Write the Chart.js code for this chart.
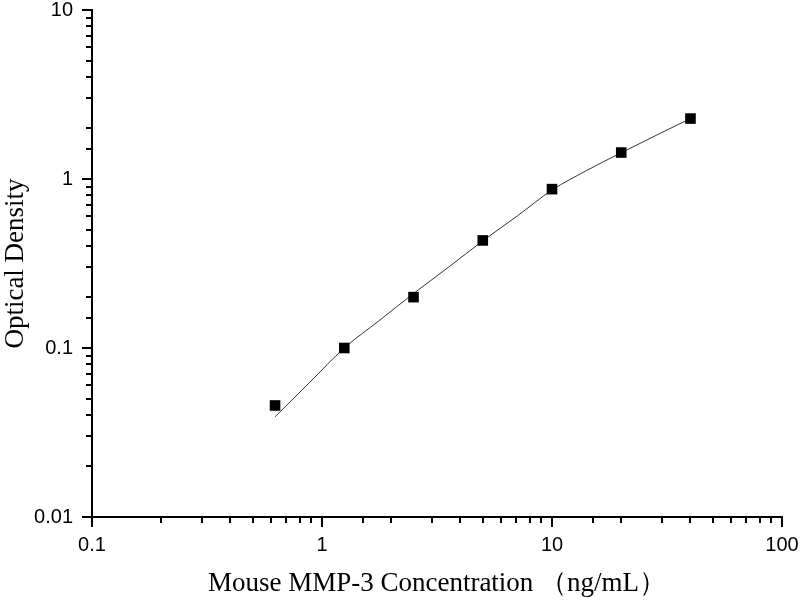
<!DOCTYPE html>
<html>
<head>
<meta charset="utf-8">
<script src="https://cdn.jsdelivr.net/npm/chart.js@4/dist/chart.umd.min.js"></script>
<style>
  html, body { margin: 0; padding: 0; background: #fff; }
  #wrap { width: 800px; height: 600px; }
</style>
</head>
<body>
<div id="wrap"><canvas id="curve" width="800" height="600"></canvas></div>
<script>
// standard points (ng/mL -> OD)
const concentrations = [0.625, 1.25, 2.5, 5, 10, 20, 40];
const odValues = [0.0457, 0.100, 0.200, 0.433, 0.871, 1.434, 2.279];

// fitted curve
const curveX = [0.625, 0.884, 1.25, 1.77, 2.5, 3.54, 5, 7.07, 10, 14.1, 20, 28.3, 40];
const curveY = [0.0392, 0.0626, 0.100, 0.145, 0.210, 0.300, 0.430, 0.605, 0.860, 1.12, 1.43, 1.81, 2.28];

// axis ranges + labels
const xRange = [0.1, 100];
const yRange = [0.01, 10];
const xTickLabels = ['0.1', '1', '10', '100'];
const yTickLabels = ['0.01', '0.1', '1', '10'];

const xTitle = 'Mouse MMP-3 Concentration （ng/mL）';
const yTitle = 'Optical Density';

const sansFont = "'Liberation Sans', Arial, sans-serif";
const serifFont = "'Liberation Serif', 'Times New Roman', serif";

function isDecade(v) {
    const l = Math.log10(v);
    return Math.abs(l - Math.round(l)) < 1e-6;
}

function labelFor(v, list) {
    if (!isDecade(v)) return '';
    const hit = list.find(s => Math.abs(parseFloat(s) - v) < v * 1e-6);
    return hit || '';
}

// draws the outward tick marks (long on decades, short in between)
const tickMarks = {
    id: 'tickMarks',
    afterDraw(chart) {
        const ctx = chart.ctx;
        const xs = chart.scales.x, ys = chart.scales.y;
        ctx.save();
        ctx.strokeStyle = '#000';
        ctx.lineWidth = 2;
        xs.ticks.forEach(t => {
            const px = Math.round(xs.getPixelForValue(t.value));
            const len = isDecade(t.value) ? 10 : 6;
            ctx.beginPath();
            ctx.moveTo(px, xs.top);
            ctx.lineTo(px, xs.top + len);
            ctx.stroke();
        });
        ys.ticks.forEach(t => {
            const py = Math.round(ys.getPixelForValue(t.value));
            const len = isDecade(t.value) ? 10 : 6;
            ctx.beginPath();
            ctx.moveTo(ys.right, py);
            ctx.lineTo(ys.right - len, py);
            ctx.stroke();
        });
        ctx.restore();
    }
};

const ctx = document.getElementById('curve');
new Chart(ctx, {
    data: {
        datasets: [
            {
                type: 'line',
                data: curveX.map((x, i) => ({ x: x, y: curveY[i] })),
                borderColor: '#333',
                borderWidth: 1,
                pointRadius: 0,
                cubicInterpolationMode: 'monotone',
                fill: false,
                order: 2
            },
            {
                type: 'scatter',
                data: concentrations.map((x, i) => ({ x: x, y: odValues[i] })),
                pointStyle: 'rect',
                pointRadius: 7.5,
                pointBackgroundColor: '#000',
                pointBorderColor: '#000',
                pointBorderWidth: 0,
                showLine: false,
                order: 1
            }
        ]
    },
    options: {
        responsive: false,
        animation: false,
        layout: { padding: { top: 10, right: 18, left: 0, bottom: 0 } },
        plugins: {
            legend: { display: false },
            tooltip: { enabled: false }
        },
        scales: {
            x: {
                type: 'logarithmic',
                min: xRange[0],
                max: xRange[1],
                afterFit: s => { s.height = 83; s.paddingLeft = 0; s.paddingRight = 0; },
                border: { display: true, color: '#000', width: 2 },
                grid: { display: true, drawOnChartArea: false, drawTicks: false },
                ticks: {
                    autoSkip: false,
                    maxRotation: 0,
                    padding: 16,
                    color: '#000',
                    font: { family: sansFont, size: 20 },
                    callback: v => labelFor(v, xTickLabels)
                },
                title: {
                    display: true,
                    text: xTitle,
                    color: '#000',
                    font: { family: serifFont, size: 27 },
                    padding: { top: 0, bottom: 0 }
                }
            },
            y: {
                type: 'logarithmic',
                min: yRange[0],
                max: yRange[1],
                afterFit: s => { s.width = 92; s.paddingTop = 0; s.paddingBottom = 0; },
                border: { display: true, color: '#000', width: 2 },
                grid: { display: true, drawOnChartArea: false, drawTicks: false },
                ticks: {
                    autoSkip: false,
                    padding: 19,
                    color: '#000',
                    font: { family: sansFont, size: 20 },
                    callback: v => labelFor(v, yTickLabels)
                },
                title: {
                    display: true,
                    text: yTitle,
                    color: '#000',
                    font: { family: serifFont, size: 27 },
                    padding: { top: 0, bottom: 0 }
                }
            }
        }
    },
    plugins: [tickMarks]
});
</script>
</body>
</html>
